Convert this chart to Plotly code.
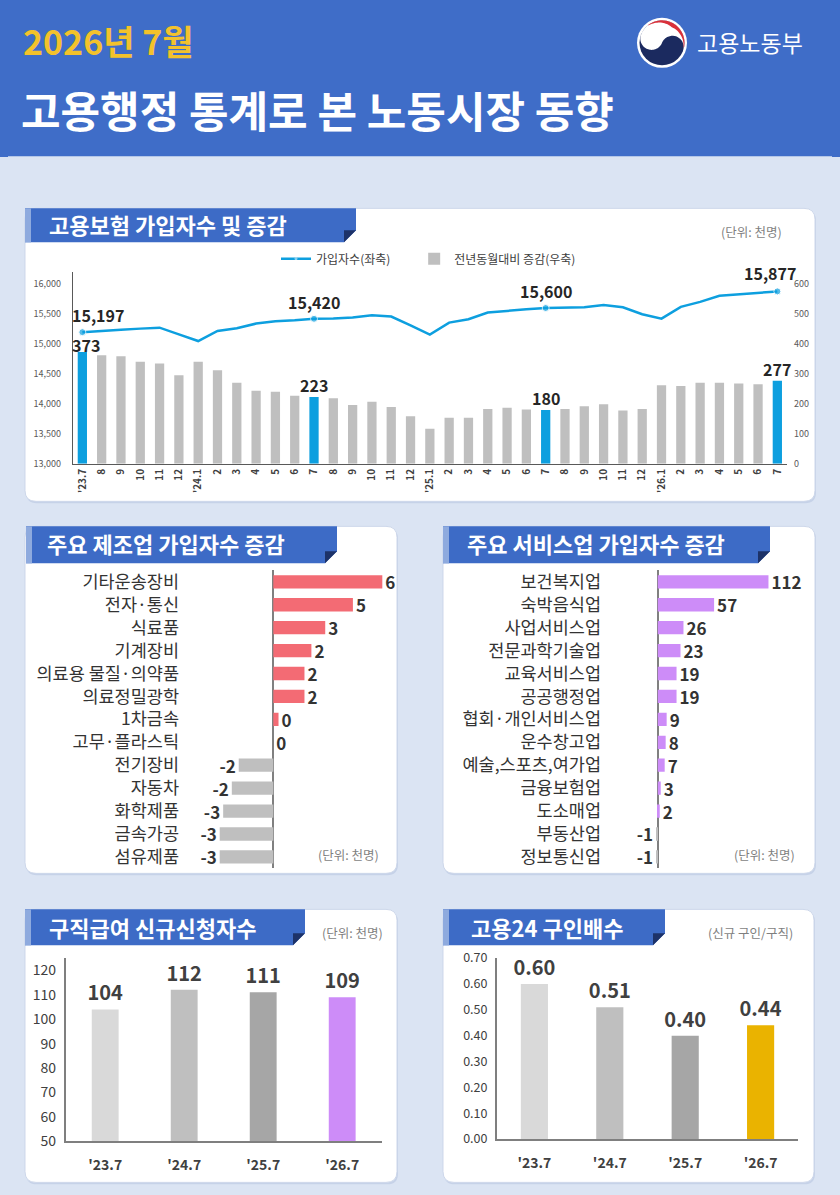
import math
import plotly.graph_objects as go

PAGE_W, PAGE_H = 840, 1195
OFF = 8            # default page margin of the browser
FW, FH = PAGE_W - 2 * OFF, PAGE_H - 2 * OFF
SY, Y0 = 0.983, 9.8  # measured vertical mapping of the captured page
FONT = "Noto Sans CJK KR"

# ---------------- data ----------------
month_labels = ["'23.7", "8", "9", "10", "11", "12",
                "'24.1", "2", "3", "4", "5", "6", "7", "8", "9", "10", "11", "12",
                "'25.1", "2", "3", "4", "5", "6", "7", "8", "9", "10", "11", "12",
                "'26.1", "2", "3", "4", "5", "6", "7"]
subscribers = [15197, 15222, 15239, 15256, 15272, 15161,
               15049, 15217, 15261, 15340, 15379, 15395, 15420, 15423, 15440, 15479, 15457, 15312,
               15155, 15356, 15412, 15524, 15557, 15580, 15600, 15602, 15613, 15652, 15613, 15496,
               15423, 15619, 15702, 15803, 15831, 15848, 15877]
yoy_change = [373, 362, 359, 341, 335, 296,
              341, 312, 271, 244, 241, 227, 223, 219, 196, 207, 190, 159,
              117, 154, 154, 183, 187, 181, 180, 183, 192, 199, 178, 183,
              262, 260, 271, 271, 268, 266, 277]
highlight_idx = [0, 12, 24, 36]

mfg_industries = ["기타운송장비", "전자·통신", "식료품", "기계장비", "의료용 물질·의약품", "의료정밀광학",
                  "1차금속", "고무·플라스틱", "전기장비", "자동차", "화학제품", "금속가공", "섬유제품"]
mfg_change = [6.3, 4.6, 3.0, 2.2, 1.8, 1.8, 0.3, 0.0, -2.0, -2.4, -2.9, -3.1, -3.1]

svc_industries = ["보건복지업", "숙박음식업", "사업서비스업", "전문과학기술업", "교육서비스업", "공공행정업",
                  "협회·개인서비스업", "운수창고업", "예술,스포츠,여가업", "금융보험업", "도소매업", "부동산업", "정보통신업"]
svc_change = [112, 57, 26, 23, 19, 19, 9, 8, 7, 3, 2, -1, -1]

claim_periods = ["'23.7", "'24.7", "'25.7", "'26.7"]
claim_counts = [104, 112, 111, 109]

ratio_periods = ["'23.7", "'24.7", "'25.7", "'26.7"]
job_ratio = [0.60, 0.51, 0.40, 0.44]


# ---------------- helpers (target pixels -> paper) ----------------
def px(x):
    return (x - OFF) / FW


def py(y):
    yd = (y - Y0) / SY
    return 1 - (yd - OFF) / FH


def poly(points):
    return "M " + " L ".join(f"{px(x):.5f},{py(y):.5f}" for x, y in points) + " Z"


def rrect(x0, y0, x1, y1, r):
    P = lambda x, y: f"{px(x):.5f},{py(y):.5f}"
    return (f"M {P(x0 + r, y0)} L {P(x1 - r, y0)} Q {P(x1, y0)} {P(x1, y0 + r)} "
            f"L {P(x1, y1 - r)} Q {P(x1, y1)} {P(x1 - r, y1)} L {P(x0 + r, y1)} "
            f"Q {P(x0, y1)} {P(x0, y1 - r)} L {P(x0, y0 + r)} Q {P(x0, y0)} {P(x0 + r, y0)} Z")


BG = "#dbe4f3"
HEADER = "#3f6dc8"
TAB = "#3d6bc6"
TAB_STRIPE = "#8eaade"
FOLD = "#1d3268"
SKY = "#0d9fdf"
GRAY_BAR = "#bfbfbf"
RED = "#f36b74"
VIOLET = "#cd8cf8"
GOLD = "#eab300"
TXT = "#333333"

shapes = []
annotations = []

# header band
shapes.append(dict(type="rect", xref="paper", yref="paper", x0=px(0), x1=px(PAGE_W), y0=py(155), y1=1.05,
                   fillcolor=HEADER, line=dict(width=0), layer="below"))

# cards
cards = [(25, 207, 815, 500), (25, 525, 397, 872), (443, 525, 815, 872),
         (25, 908, 397, 1181), (443, 908, 814, 1181)]
for (x0, y0, x1, y1) in cards:
    shapes.append(dict(type="path", xref="paper", yref="paper", path=rrect(x0 + 1, y0 + 2, x1 + 1, y1 + 2, 11),
                       fillcolor="#c6d2e8", line=dict(width=0), layer="below"))
    shapes.append(dict(type="path", xref="paper", yref="paper", path=rrect(x0, y0, x1, y1, 11),
                       fillcolor="white", line=dict(color="#cdd7ea", width=1), layer="below"))

# title tabs
tabs = [(25, 207, 356, 241, "고용보험 가입자수 및 증감", 47, 223),
        (26, 525, 337, 562, "주요 제조업 가입자수 증감", 45, 542),
        (443, 525, 770, 562, "주요 서비스업 가입자수 증감", 465, 542),
        (25, 908, 305, 944, "구직급여 신규신청자수", 47, 926),
        (443, 908, 665, 944, "고용24 구인배수", 469, 926)]
f = 12
for (x0, y0, x1, y1, title, tx, ty) in tabs:
    shapes.append(dict(type="path", xref="paper", yref="paper",
                       path=poly([(x0, y0), (x1, y0), (x1, y1 - f), (x1 - f, y1), (x0, y1)]),
                       fillcolor=TAB, line=dict(width=0), layer="below"))
    shapes.append(dict(type="path", xref="paper", yref="paper",
                       path=poly([(x1 - f, y1 - f), (x1, y1 - f), (x1 - f, y1)]),
                       fillcolor=FOLD, line=dict(width=0), layer="below"))
    shapes.append(dict(type="rect", xref="paper", yref="paper", x0=px(x0), x1=px(x0 + 6),
                       y0=py(y1), y1=py(y0), fillcolor=TAB_STRIPE, line=dict(width=0), layer="below"))
    annotations.append(dict(xref="paper", yref="paper", x=px(tx), y=py(ty), xanchor="left", yanchor="middle",
                            text=f"<b>{title}</b>", showarrow=False,
                            font=dict(family=FONT, size=22, color="white")))

# unit notes
for (txt, x, y) in [("(단위: 천명)", 751, 230), ("(단위: 천명)", 348, 853), ("(단위: 천명)", 764, 853),
                    ("(단위: 천명)", 352, 931), ("(신규 구인/구직)", 750, 931)]:
    annotations.append(dict(xref="paper", yref="paper", x=px(x), y=py(y), xanchor="center", yanchor="middle",
                            text=txt, showarrow=False, font=dict(family=FONT, size=12.5, color="#7f7f7f")))

# header texts
annotations.append(dict(xref="paper", yref="paper", x=px(21), y=py(39), xanchor="left", yanchor="middle",
                        text="<b>2026년 7월</b>", showarrow=False,
                        font=dict(family=FONT, size=34, color="#f3c22c")))
annotations.append(dict(xref="paper", yref="paper", x=px(19), y=py(108), xanchor="left", yanchor="middle",
                        text="<b>고용행정 통계로 본 노동시장 동향</b>", showarrow=False,
                        font=dict(family=FONT, size=43, color="white")))
annotations.append(dict(xref="paper", yref="paper", x=px(695), y=py(41), xanchor="left", yanchor="middle",
                        text="고용노동부", showarrow=False,
                        font=dict(family=FONT, size=23, color="white")))

# logo (taegeuk-like emblem)
cx, cy = 662, 41.5


def circ(r, color):
    return dict(type="circle", xref="paper", yref="paper", x0=px(cx - r), x1=px(cx + r),
                y0=py(cy + r), y1=py(cy - r), fillcolor=color, line=dict(width=0), layer="below")


shapes.append(circ(25, "white"))
R = 22.5
shapes.append(circ(R, "#1b2a5f"))


def pt(r, a_deg, ox=0.0, oy=0.0):
    a = math.radians(a_deg)
    return (cx + ox + r * math.cos(a), cy - (oy + r * math.sin(a)))


rot = -22
n = 40
ocx, ocy = (R / 2) * math.cos(math.radians(rot)), (R / 2) * math.sin(math.radians(rot))
white = [pt(R, 180 + rot - 180 * k / n) for k in range(n + 1)]
white += [pt(R / 2, rot + 180 * k / n, ocx, ocy) for k in range(n + 1)]
white += [pt(R / 2, rot - 180 * k / n, -ocx, -ocy) for k in range(n + 1)]
shapes.append(dict(type="path", xref="paper", yref="paper", path=poly(white),
                   fillcolor="white", line=dict(width=0), layer="below"))
red = [pt(22.5, 128 - 140 * k / n) for k in range(n + 1)] + \
      [pt(18.5 + 3.5 * abs(k / n - 0.5) * 2, -12 + 140 * k / n) for k in range(n + 1)]
shapes.append(dict(type="path", xref="paper", yref="paper", path=poly(red),
                   fillcolor="#d9303a", line=dict(width=0), layer="below"))

# ---------------- traces ----------------
idx = list(range(len(month_labels)))
marker_sizes = [7 if i in highlight_idx else 0 for i in idx]
gray_vals = [v if i not in highlight_idx else None for i, v in enumerate(yoy_change)]
blue_vals = [v if i in highlight_idx else None for i, v in enumerate(yoy_change)]
NBSP = "\u00a0"

fig = go.Figure()
fig.add_trace(go.Scatter(x=idx, y=subscribers, mode="lines+markers", name="가입자수(좌축)" + NBSP * 7,
                         line=dict(color=SKY, width=2.5), marker=dict(size=marker_sizes, color=SKY),
                         xaxis="x", yaxis="y", hoverinfo="skip", cliponaxis=False))
fig.add_trace(go.Bar(x=idx, y=gray_vals, name="전년동월대비 증감(우축)",
                     marker=dict(color=GRAY_BAR, line=dict(width=0)),
                     width=0.48, xaxis="x", yaxis="y2", hoverinfo="skip"))
fig.add_trace(go.Bar(x=idx, y=blue_vals, name="highlight", showlegend=False,
                     marker=dict(color=SKY, line=dict(width=0)),
                     width=0.48, xaxis="x", yaxis="y2", hoverinfo="skip"))

for k, i in enumerate(highlight_idx):
    annotations.append(dict(xref="x", yref="y", x=i, y=subscribers[i], text=f"<b>{subscribers[i]:,}</b>",
                            showarrow=False, yanchor="middle", xanchor="center",
                            yshift=18 if k == 3 else 17,
                            xshift=16 if k == 0 else (-7 if k == 3 else 0),
                            font=dict(family=FONT, size=16, color="#262626")))
    annotations.append(dict(xref="x", yref="y2", x=i, y=yoy_change[i], text=f"<b>{yoy_change[i]}</b>",
                            showarrow=False, yanchor="middle", xanchor="center",
                            yshift=7 if k == 0 else 12, xshift=4 if k == 0 else 0,
                            font=dict(family=FONT, size=16, color="#262626")))

fig.add_trace(go.Bar(x=mfg_change, y=mfg_industries, orientation="h",
                     marker=dict(color=[RED if v >= 0 else GRAY_BAR for v in mfg_change], line=dict(width=0)),
                     width=0.58, text=[f"<b>{v:.0f}</b>" for v in mfg_change], textposition="outside",
                     constraintext="none", textfont=dict(family=FONT, size=17, color=TXT), cliponaxis=False,
                     xaxis="x2", yaxis="y3", showlegend=False, hoverinfo="skip"))
fig.add_trace(go.Bar(x=svc_change, y=svc_industries, orientation="h",
                     marker=dict(color=[VIOLET if v >= 0 else GRAY_BAR for v in svc_change], line=dict(width=0)),
                     width=0.58, text=[f"<b>{v}</b>" for v in svc_change], textposition="outside",
                     constraintext="none", textfont=dict(family=FONT, size=17, color=TXT), cliponaxis=False,
                     xaxis="x3", yaxis="y4", showlegend=False, hoverinfo="skip"))
fig.add_trace(go.Bar(x=claim_periods, y=claim_counts,
                     marker=dict(color=["#d9d9d9", "#bfbfbf", "#a6a6a6", VIOLET], line=dict(width=0)),
                     width=0.34, text=[f"<b>{v}</b>" for v in claim_counts], textposition="outside",
                     constraintext="none", textfont=dict(family=FONT, size=20, color="#404040"), cliponaxis=False,
                     xaxis="x4", yaxis="y5", showlegend=False, hoverinfo="skip"))
fig.add_trace(go.Bar(x=ratio_periods, y=job_ratio,
                     marker=dict(color=["#d9d9d9", "#bfbfbf", "#a6a6a6", GOLD], line=dict(width=0)),
                     width=0.36, text=[f"<b>{v:.2f}</b>" for v in job_ratio], textposition="outside",
                     constraintext="none", textfont=dict(family=FONT, size=20, color="#404040"), cliponaxis=False,
                     xaxis="x5", yaxis="y6", showlegend=False, hoverinfo="skip"))

# ---------------- layout ----------------
AX = "#595959"
small = dict(family=FONT, size=9, color=AX)
cat_font = dict(family=FONT, size=17.5, color=TXT)
fig.update_layout(
    width=FW, height=FH, margin=dict(l=0, r=0, t=0, b=0),
    paper_bgcolor=BG, plot_bgcolor="rgba(0,0,0,0)",
    font=dict(family=FONT, color=TXT),
    barmode="overlay",
    shapes=shapes, annotations=annotations,
    legend=dict(orientation="h", x=px(276), y=py(243), xanchor="left", yanchor="top",
                font=dict(family=FONT, size=12, color="#404040"), bgcolor="rgba(0,0,0,0)",
                itemwidth=30),
    xaxis=dict(domain=[px(72.7), px(787)], range=[-0.5, 36.5], tickmode="array", tickvals=idx,
               ticktext=month_labels, tickangle=-90, ticks="",
               tickfont=dict(family=FONT, size=10, color="#404040", weight="bold"),
               showline=True, linecolor=AX, linewidth=1, showgrid=False, zeroline=False, anchor="y"),
    yaxis=dict(domain=[py(462.5), py(270.7)], range=[13000, 16200], tickmode="array",
               tickvals=[13000, 13500, 14000, 14500, 15000, 15500, 16000], tickformat=",",
               tickfont=small, showline=True, linecolor=AX, linewidth=1, ticks="", showgrid=False,
               zeroline=False, anchor="x", ticklabelstandoff=9),
    yaxis2=dict(overlaying="y", side="right", anchor="x", range=[0, 640], tickmode="array",
                tickvals=[0, 100, 200, 300, 400, 500, 600], tickfont=small, showline=False,
                showgrid=False, zeroline=False, ticks="", ticklabelstandoff=6),
    xaxis2=dict(domain=[px(182), px(392)], range=[-5.28, 6.86], showticklabels=False, showgrid=False,
                zeroline=True, zerolinecolor="#808080", zerolinewidth=1.5, showline=False, anchor="y3"),
    yaxis3=dict(domain=[py(867), py(569)], autorange="reversed", type="category", ticks="",
                tickmode="array", tickvals=mfg_industries, ticktext=mfg_industries,
                tickfont=cat_font, showline=False, showgrid=False,
                zeroline=False, anchor="x2", ticklabelstandoff=2),
    xaxis3=dict(domain=[px(604), px(808)], range=[-54.4, 152], showticklabels=False, showgrid=False,
                zeroline=True, zerolinecolor="#808080", zerolinewidth=1.5, showline=False, anchor="y4"),
    yaxis4=dict(domain=[py(867), py(569)], autorange="reversed", type="category", ticks="",
                tickmode="array", tickvals=svc_industries, ticktext=svc_industries,
                tickfont=cat_font, showline=False, showgrid=False,
                zeroline=False, anchor="x3", ticklabelstandoff=2),
    xaxis4=dict(domain=[px(65.7), px(381.7)], type="category", ticks="", showline=True, linecolor="#7f7f7f",
                linewidth=1.5, showgrid=False, zeroline=False, anchor="y5", ticklabelstandoff=10,
                tickfont=dict(family=FONT, size=14, color="#404040", weight="bold")),
    yaxis5=dict(domain=[py(1140), py(956.7)], range=[50, 125], tickmode="array",
                tickvals=[50, 60, 70, 80, 90, 100, 110, 120], ticks="", showline=True, linecolor="#7f7f7f",
                linewidth=1.5, showgrid=False, zeroline=False, anchor="x4", ticklabelstandoff=5,
                tickfont=dict(family=FONT, size=14, color="#404040")),
    xaxis5=dict(domain=[px(496.7), px(798.3)], type="category", ticks="", showline=True, linecolor="#7f7f7f",
                linewidth=1.5, showgrid=False, zeroline=False, anchor="y6", ticklabelstandoff=10,
                tickfont=dict(family=FONT, size=14, color="#404040", weight="bold")),
    yaxis6=dict(domain=[py(1137.7), py(956.7)], range=[0, 0.7], tickmode="array",
                tickvals=[0, 0.1, 0.2, 0.3, 0.4, 0.5, 0.6, 0.7], tickformat=".2f", ticks="", showline=True,
                linecolor="#7f7f7f", linewidth=1.5, showgrid=False, zeroline=False, anchor="x5",
                ticklabelstandoff=5, tickfont=dict(family=FONT, size=12.5, color="#404040")),
)

page_bg = ("document.documentElement.style.background="
           "'linear-gradient(" + HEADER + " 0px, " + HEADER + " 157px, " + BG + " 157px)';")
fig.write_html("out.html", config={"displayModeBar": False}, post_script=page_bg)
